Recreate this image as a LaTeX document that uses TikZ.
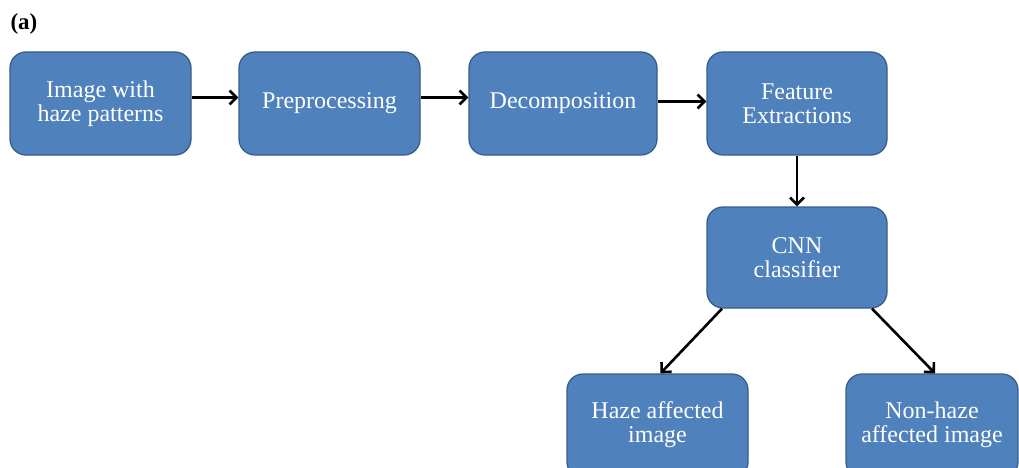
\documentclass[tikz,border=0pt]{standalone}
\usepackage{fontspec}
\setmainfont{Liberation Serif}
\usetikzlibrary{arrows.meta,calc}
\definecolor{boxfill}{HTML}{4F81BD}
\definecolor{boxline}{HTML}{385D8A}
\tikzset{
  blk/.style={draw=boxline, line width=1.3pt, fill=boxfill, rounded corners=16pt,
    text=white, align=center, inner sep=0pt, font=\fontsize{24}{24}\selectfont},
  arr/.style={line width=2.6pt, -{Straight Barb[length=7pt,width=14pt,line width=2.6pt]}}
}
\begin{document}
\begin{tikzpicture}[x=1pt,y=-1pt]
\useasboundingbox (0,0) rectangle (1019,468);
\clip (0,0) rectangle (1019,468);
\node[font=\bfseries\fontsize{23}{26}\selectfont, anchor=west] (lab) at (7,24) {(a)};
\node[blk, minimum width=181pt, minimum height=103pt] (b1) at (100.5,103.5) {Image with\\haze patterns};
\node[blk, minimum width=181pt, minimum height=103pt] (b2) at (329.5,103.5) {Preprocessing};
\node[blk, minimum width=188pt, minimum height=103pt] (b3) at (563,103.5) {Decomposition};
\node[blk, minimum width=180pt, minimum height=103pt] (b4) at (797,103.5) {Feature\\Extractions};
\node[blk, minimum width=180pt, minimum height=101pt] (cnn) at (797,257.5) {CNN\\classifier};
\node[blk, minimum width=181pt, minimum height=104pt] (haze) at (657.5,426) {\raisebox{3pt}{\begin{tabular}{@{}c@{}}Haze affected\\image\end{tabular}}};
\node[blk, minimum width=172pt, minimum height=104pt] (non) at (932,426) {\raisebox{3pt}{\begin{tabular}{@{}c@{}}Non-haze\\affected image\end{tabular}}};
\draw[arr] ($(b1.east)+(0,-6)$) -- ($(b2.west)+(0,-6)$);
\draw[arr] ($(b2.east)+(0,-6)$) -- ($(b3.west)+(0,-6)$);
\draw[arr] ($(b3.east)+(0,-2)$) -- ($(b4.west)+(0,-2)$);
\draw[arr] (b4.south) -- (cnn.north);
\draw[arr] ($(cnn.south)+(-75,0)$) -- ($(haze.north)+(3,0)$);
\draw[arr] ($(cnn.south)+(75,0)$) -- ($(non.north)+(3,0)$);
\end{tikzpicture}
\end{document}
